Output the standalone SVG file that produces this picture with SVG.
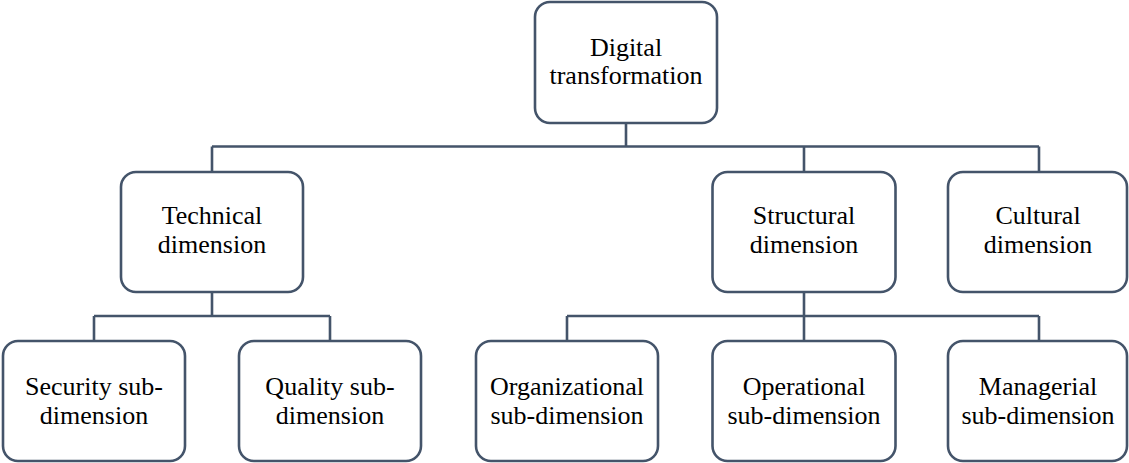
<svg xmlns="http://www.w3.org/2000/svg" width="1129" height="463" viewBox="0 0 1129 463">
<style>
.box{fill:#fff;stroke:#44546A;stroke-width:2.6}
.ln{fill:none;stroke:#44546A;stroke-width:2.6}
text{font-family:"Liberation Serif","Times New Roman",serif;font-size:26px;fill:#000;text-anchor:middle}
</style>
<rect width="1129" height="463" fill="#fff"/>
<g id="connectors">
<path class="ln" d="M626 123V146.5M212 146.5H1039M212 146.5V172M804 146.5V172M1039 146.5V172"/>
<path class="ln" d="M212 292V316M94 316H330M94 316V341M330 316V341"/>
<path class="ln" d="M804 292V316M567 316H1039M567 316V341M804 316V341M1039 316V341"/>
</g>
<g id="digital-transformation">
<rect class="box" x="535" y="2" width="182" height="121" rx="15"/>
<text x="626" y="56">Digital</text>
<text x="626" y="84">transformation</text>
</g>
<g id="technical">
<rect class="box" x="121" y="172" width="182" height="120" rx="15"/>
<text x="212" y="224">Technical</text>
<text x="212" y="253">dimension</text>
</g>
<g id="structural">
<rect class="box" x="712.5" y="172" width="183" height="120" rx="15"/>
<text x="804" y="224">Structural</text>
<text x="804" y="253">dimension</text>
</g>
<g id="cultural">
<rect class="box" x="948" y="172" width="179" height="120" rx="15"/>
<text x="1038" y="224">Cultural</text>
<text x="1038" y="253">dimension</text>
</g>
<g id="security">
<rect class="box" x="3" y="341" width="182" height="120" rx="15"/>
<text x="94" y="395">Security sub-</text>
<text x="94" y="424">dimension</text>
</g>
<g id="quality">
<rect class="box" x="239" y="341" width="182" height="120" rx="15"/>
<text x="330" y="395">Quality sub-</text>
<text x="330" y="424">dimension</text>
</g>
<g id="organizational">
<rect class="box" x="476" y="341" width="182" height="120" rx="15"/>
<text x="567" y="395">Organizational</text>
<text x="567" y="424">sub-dimension</text>
</g>
<g id="operational">
<rect class="box" x="712.5" y="341" width="183" height="120" rx="15"/>
<text x="804" y="395">Operational</text>
<text x="804" y="424">sub-dimension</text>
</g>
<g id="managerial">
<rect class="box" x="948" y="341" width="179" height="120" rx="15"/>
<text x="1038" y="395">Managerial</text>
<text x="1038" y="424">sub-dimension</text>
</g>
</svg>
